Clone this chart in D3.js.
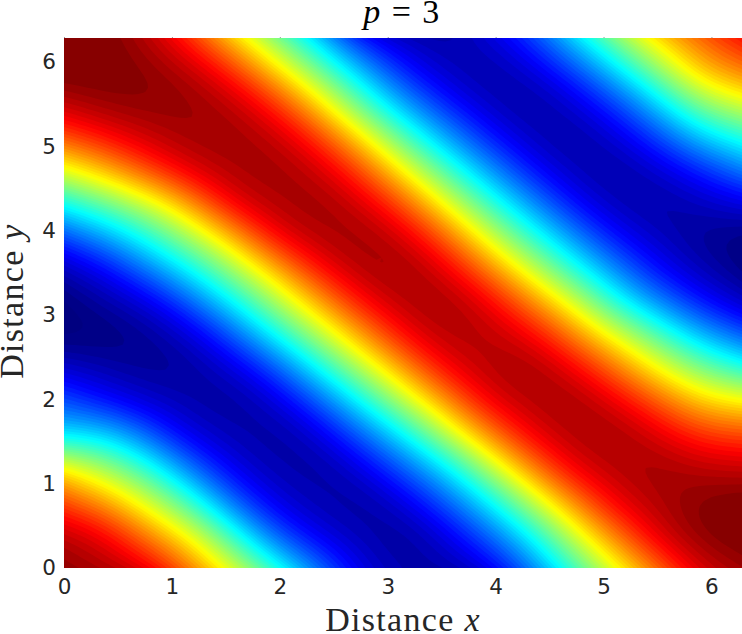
<!DOCTYPE html>
<html><head><meta charset="utf-8">
<script src="https://d3js.org/d3.v7.min.js"></script>
<style>
html,body{margin:0;padding:0;background:#fff}
svg{display:block}
.tick text{font-family:"DejaVu Sans",sans-serif;font-size:21.5px;fill:#262626}
.lab{font-family:"Liberation Serif",serif;font-size:34px;letter-spacing:1.3px;fill:#262626}
.ttl{font-family:"Liberation Serif",serif;font-size:34px;letter-spacing:1.5px;fill:#000}
.edge line{stroke:#999;stroke-width:1}
</style></head><body>
<div id="chart"></div>
<script>
const title = ["p", " = 3"];
const xLabel = ["Distance ", "x"];
const yLabel = ["Distance ", "y"];
const xTicks = [0,1,2,3,4,5,6];
const yTicks = [0,1,2,3,4,5,6];
const domainMax = 2*Math.PI;

const row00=[.955,.93,.877,.733,.578,.404,.238,.11,.06,.063,.115,.258,.435,.612,.764,.905,.945];
const row01=[.925,.875,.725,.61,.42,.212,.112,.075,.035,.11,.234,.375,.577,.747,.90,.97,.99];
const row02=[.78,.707,.575,.434,.225,.108,.078,.04,.11,.227,.36,.549,.726,.885,.925,.97,.985];
const row03=[.645,.528,.427,.244,.115,.075,.042,.11,.224,.345,.54,.723,.885,.92,.955,.925,.915];
const row04=[.345,.36,.226,.107,.079,.04,.103,.224,.362,.547,.724,.875,.925,.952,.895,.817,.80];
const row05=[.22,.145,.10,.068,.04,.10,.217,.375,.547,.712,.875,.92,.955,.885,.787,.672,.64];
const row06=[.097,.07,.04,.045,.10,.208,.375,.543,.705,.865,.925,.955,.88,.757,.625,.503,.42];
const row07=[.01,.012,.04,.095,.218,.379,.54,.70,.856,.93,.925,.878,.746,.61,.466,.325,.235];
const row08=[.015,.06,.105,.227,.375,.535,.691,.85,.925,.95,.885,.746,.60,.407,.278,.158,.09];
const row09=[.07,.134,.258,.382,.527,.681,.85,.93,.955,.888,.748,.585,.417,.274,.141,.08,.03];
const row10=[.21,.30,.414,.54,.69,.875,.93,.955,.90,.774,.59,.426,.28,.144,.089,.04,.02];
const row11=[.395,.478,.573,.716,.89,.93,.955,.90,.789,.608,.437,.286,.146,.079,.047,.078,.11];
const row12=[.60,.69,.80,.895,.935,.95,.91,.80,.625,.45,.293,.155,.083,.045,.096,.162,.25];
const row13=[.79,.85,.91,.945,.95,.92,.816,.648,.459,.299,.163,.087,.045,.103,.196,.33,.405];
const row14=[.92,.96,.965,.955,.925,.823,.657,.464,.30,.167,.089,.045,.10,.191,.33,.505,.58];
const row15=[.99,.985,.965,.93,.824,.663,.498,.328,.164,.087,.046,.098,.187,.336,.502,.68,.74];
const row16=[.99,.98,.93,.82,.667,.506,.34,.151,.085,.052,.10,.182,.334,.494,.655,.76,.84];
const rows=[row00,row01,row02,row03,row04,row05,row06,row07,row08,row09,row10,row11,row12,row13,row14,row15,row16];

const W=742,H=634,L=64,R=742,T=38,B=568;
const svg=d3.select("#chart").append("svg").attr("width",W).attr("height",H);
const x=d3.scaleLinear().domain([0,domainMax]).range([L,R]);
const y=d3.scaleLinear().domain([0,domainMax]).range([B,T]);

// smooth resampling of the grid for the filled contour plot
const f=8,n=rows[0].length,m=rows.length;
const cr=(a,b,c,d,t)=>b+.5*t*(c-a+t*(2*a-5*b+4*c-d+t*(3*(b-c)+d-a)));
const at=(i,j)=>rows[Math.max(0,Math.min(m-1,j))][Math.max(0,Math.min(n-1,i))];
const nn=(n-1)*f+1,mm=(m-1)*f+1,base=new Float64Array(nn*mm);
for(let j=0;j<mm;j++){const gy=j/f,j0=Math.min(m-2,Math.floor(gy)),ty=gy-j0;
 for(let i=0;i<nn;i++){const gx=i/f,i0=Math.min(n-2,Math.floor(gx)),tx=gx-i0;
  const c=[-1,0,1,2].map(dj=>cr(at(i0-1,j0+dj),at(i0,j0+dj),at(i0+1,j0+dj),at(i0+2,j0+dj),tx));
  base[j*nn+i]=cr(c[0],c[1],c[2],c[3],ty);
 }}
// pad by odd reflection so the smoothing does not drag the contours at the plot edges
const p=24,pw=nn+2*p,ph=mm+2*p,pad=new Float64Array(pw*ph);
const extX=(i,j)=>i<0?2*base[j*nn]-base[j*nn-i]:i>=nn?2*base[j*nn+nn-1]-base[j*nn+2*(nn-1)-i]:base[j*nn+i];
const ext=(i,j)=>j<0?2*extX(i,0)-extX(i,-j):j>=mm?2*extX(i,mm-1)-extX(i,2*(mm-1)-j):extX(i,j);
for(let j=0;j<ph;j++)for(let i=0;i<pw;i++)pad[j*pw+i]=ext(i-p,j-p);
d3.blur2({data:pad,width:pw,height:ph},4);
const gain=1.05;
const grid=new Float64Array(nn*mm);
for(let j=0;j<mm;j++)for(let i=0;i<nn;i++)grid[j*nn+i]=.5+(pad[(j+p)*pw+i+p]-.5)*gain;

const jet=v=>{const c=t=>Math.round(255*Math.max(0,Math.min(1,1.5-Math.abs(4*t))));
  return `rgb(${c(v-.75)},${c(v-.5)},${c(v-.25)})`;};
const levels=64;
const thresholds=d3.range(0,levels).map(k=>k/levels);
const contours=d3.contours().size([nn,mm]).thresholds(thresholds)(grid);
const gx=d3.scaleLinear().domain([.5,nn-.5]).range([L,R]);
const gy=d3.scaleLinear().domain([.5,mm-.5]).range([B,T]);
const path=d3.geoPath(d3.geoTransform({point(a,b){this.stream.point(gx(a),gy(b));}}));
svg.append("clipPath").attr("id","c").append("rect").attr("x",L).attr("y",T).attr("width",R-L).attr("height",B-T);
const plot=svg.append("g").attr("clip-path","url(#c)");
plot.append("rect").attr("x",L).attr("y",T).attr("width",R-L).attr("height",B-T).attr("fill",jet(0));
plot.selectAll("path").data(contours).join("path").attr("d",path)
  .attr("fill",d=>jet(d.value+.5/levels));

const ax=svg.append("g").attr("transform",`translate(0,${B})`).call(d3.axisBottom(x).tickValues(xTicks).tickSize(0).tickPadding(11).tickFormat(d3.format("d")));
const ay=svg.append("g").attr("transform",`translate(${L},0)`).call(d3.axisLeft(y).tickValues(yTicks).tickSize(0).tickPadding(8).tickFormat(d3.format("d")));
ax.select(".domain").remove();ay.select(".domain").remove();
// the axes' faint tick stubs just above the plot
const stubs=svg.append("g").attr("class","edge").attr("transform",`translate(0,${T})`).call(d3.axisTop(x).tickValues(xTicks).tickSize(1).tickFormat(""));
stubs.select(".domain").remove();

const ttl=svg.append("text").attr("class","ttl").attr("x",402).attr("y",23).attr("text-anchor","middle");
ttl.append("tspan").attr("font-style","italic").text(title[0]);ttl.append("tspan").text(title[1]);
const xl=svg.append("text").attr("class","lab").attr("x",403).attr("y",631).attr("text-anchor","middle");
xl.append("tspan").text(xLabel[0]);xl.append("tspan").attr("font-style","italic").text(xLabel[1]);
const yl=svg.append("text").attr("class","lab").attr("transform","translate(23,301) rotate(-90)").attr("text-anchor","middle");
yl.append("tspan").text(yLabel[0]);yl.append("tspan").attr("font-style","italic").text(yLabel[1]);
</script></body></html>
